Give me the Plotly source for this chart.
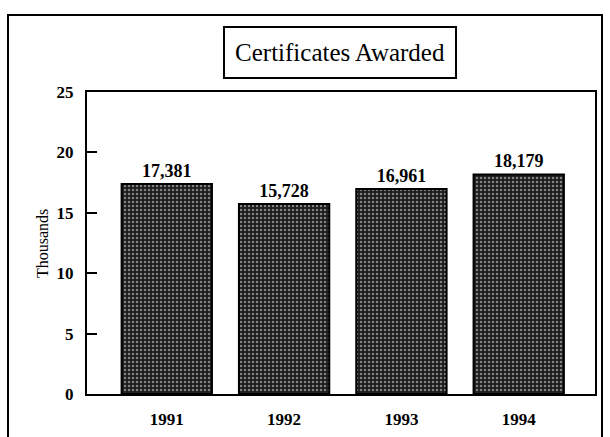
import plotly.graph_objects as go

years = ["1991", "1992", "1993", "1994"]
certificates = [17381, 15728, 16961, 18179]
y_ticks = [0, 5, 10, 15, 20, 25]

thousands = [v / 1000 for v in certificates]
labels = [f"{v:,}" for v in certificates]

SERIF = "Liberation Serif"

fig = go.Figure()
fig.add_trace(go.Bar(
    x=years,
    y=thousands,
    text=labels,
    textposition="outside",
    cliponaxis=False,
    textfont=dict(family=SERIF, size=18, color="black", weight="bold"),
    marker=dict(
        color="#222222",
        line=dict(color="black", width=2),
        pattern=dict(shape=".", bgcolor="#1c1c1c", fgcolor="#e8e8e8",
                     size=4, solidity=0.3),
    ),
))

fig.update_layout(
    width=610, height=437,
    margin=dict(l=87, r=15, t=92, b=43),
    paper_bgcolor="white",
    plot_bgcolor="white",
    showlegend=False,
    bargap=0.23,
    font=dict(family=SERIF, color="black"),
)

fig.update_xaxes(
    type="category",
    range=[-0.68, 3.65],
    automargin=False,
    showline=True, linecolor="black", linewidth=2, mirror=True,
    ticks="", showgrid=False,
    tickfont=dict(family=SERIF, size=17, color="black", weight="bold"),
    ticklabelstandoff=9,
)
fig.update_yaxes(
    range=[0, 25],
    tickvals=y_ticks,
    automargin=False,
    showline=True, linecolor="black", linewidth=2, mirror=True,
    ticks="inside", ticklen=10, tickwidth=2, tickcolor="black",
    showgrid=False, zeroline=False,
    tickfont=dict(family=SERIF, size=17, color="black", weight="bold"),
    ticklabelstandoff=8,
)

# y-axis title
fig.add_annotation(
    text="Thousands", xref="paper", yref="paper",
    x=-0.0886, y=0.50, xanchor="center", yanchor="middle",
    textangle=-90, showarrow=False,
    font=dict(family=SERIF, size=16, color="black"),
)

# outer frame
fig.add_shape(type="rect", xref="paper", yref="paper",
              x0=-0.1555, x1=1.0138, y0=-0.3, y1=1.255,
              line=dict(color="black", width=2), fillcolor="rgba(0,0,0,0)", layer="below")

# boxed title
fig.add_annotation(
    text="Certificates Awarded", xref="paper", yref="paper",
    x=0.498, y=1.132, xanchor="center", yanchor="middle",
    showarrow=False, font=dict(family=SERIF, size=25, color="black"),
    bordercolor="black", borderwidth=2, borderpad=2,
    width=226, height=45, bgcolor="white",
)

fig.write_html("out.html", config={"displayModeBar": False},
               post_script="document.body.style.margin='0';")
